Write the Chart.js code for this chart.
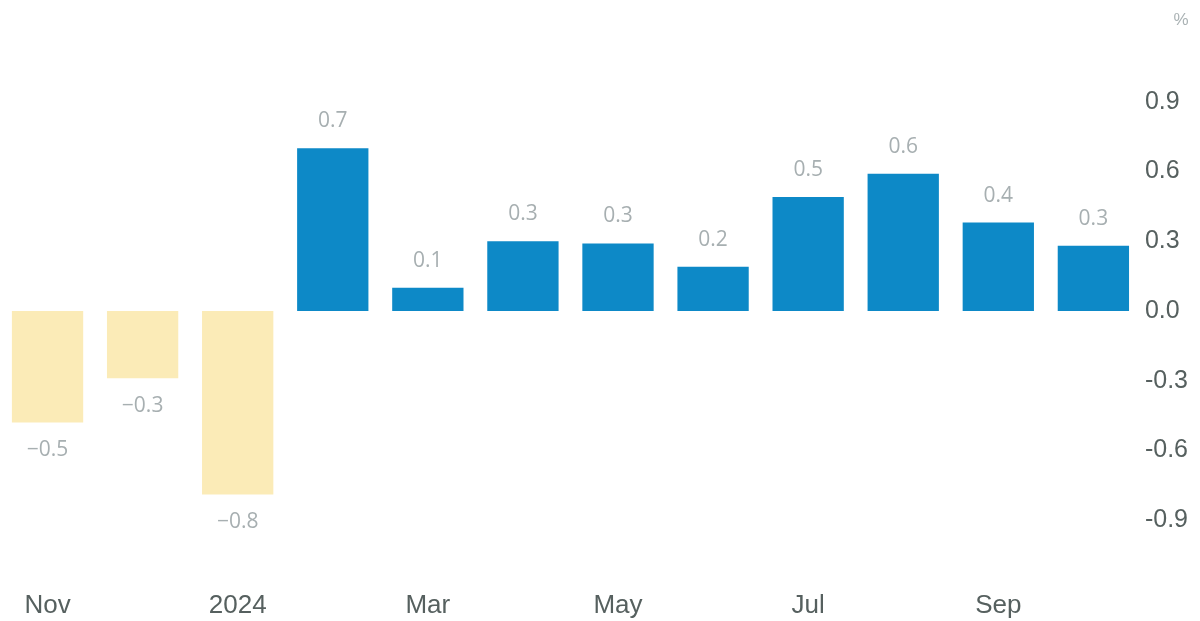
<!DOCTYPE html>
<html>
<head>
<meta charset="utf-8">
<script src="https://cdn.jsdelivr.net/npm/chart.js@4.4.1/dist/chart.umd.min.js"></script>
<style>
  html, body { margin: 0; padding: 0; background: #ffffff; }
  #wrap { width: 1200px; height: 621px; position: relative; }
</style>
</head>
<body>
<div id="wrap"><canvas id="c" width="1200" height="621"></canvas></div>
<script>
// Data
const categories = ['Nov', 'Dec', '2024', 'Feb', 'Mar', 'Apr', 'May', 'Jun', 'Jul', 'Aug', 'Sep', 'Oct'];
const values = [-0.48, -0.29, -0.79, 0.70, 0.10, 0.30, 0.29, 0.19, 0.49, 0.59, 0.38, 0.28];
const valueLabels = ['−0.5', '−0.3', '−0.8', '0.7', '0.1', '0.3', '0.3', '0.2', '0.5', '0.6', '0.4', '0.3'];
const yTickValues = [-0.9, -0.6, -0.3, 0.0, 0.3, 0.6, 0.9];
const unitLabel = '%';

const BLUE = '#0d89c7';
const YELLOW = '#fbebb7';
const LABEL_GREY = '#a7afb1';
const TICK_GREY = '#56605f';

const valueLabelPlugin = {
  id: 'valueLabels',
  afterDatasetsDraw(chart) {
    const ctx = chart.ctx;
    const meta = chart.getDatasetMeta(0);
    ctx.save();
    ctx.font = '21px "Open Sans", "DejaVu Sans", sans-serif';
    ctx.fillStyle = LABEL_GREY;
    ctx.textAlign = 'center';
    ctx.textBaseline = 'middle';
    meta.data.forEach((bar, i) => {
      const v = values[i];
      const y = v >= 0 ? bar.y - 27 : bar.y + 28;
      ctx.fillText(valueLabels[i], bar.x, y);
    });
    ctx.restore();
  }
};

const unitPlugin = {
  id: 'unitLabel',
  afterDraw(chart) {
    const ctx = chart.ctx;
    ctx.save();
    ctx.font = '17px "Liberation Sans", Arial, sans-serif';
    ctx.fillStyle = '#aab2b4';
    ctx.textAlign = 'center';
    ctx.textBaseline = 'middle';
    ctx.fillText(unitLabel, 1181, 20);
    ctx.restore();
  }
};

new Chart(document.getElementById('c'), {
  type: 'bar',
  data: {
    labels: categories,
    datasets: [{
      data: values,
      backgroundColor: ctx => (values[ctx.dataIndex] < 0 ? YELLOW : BLUE),
      borderWidth: 0,
      categoryPercentage: 1.0,
      barPercentage: 0.75
    }]
  },
  options: {
    responsive: false,
    animation: false,
    devicePixelRatio: 1,
    layout: { padding: { top: 32, right: 8, bottom: 0, left: 0 } },
    plugins: {
      legend: { display: false },
      tooltip: { enabled: false },
      title: { display: false }
    },
    scales: {
      x: {
        grid: { display: false, drawTicks: false },
        border: { display: false },
        ticks: {
          autoSkip: false,
          maxRotation: 0,
          padding: 0,
          color: TICK_GREY,
          font: { family: '"Liberation Sans", Arial, sans-serif', size: 26 },
          callback: (val, idx) => (idx % 2 === 0 ? categories[idx] : '')
        }
      },
      y: {
        position: 'right',
        min: -1.2,
        max: 1.2,
        grid: { display: false, drawTicks: false },
        border: { display: false },
        afterBuildTicks: axis => {
          axis.ticks = yTickValues.map(v => ({ value: v }));
        },
        ticks: {
          padding: 4,
          color: TICK_GREY,
          font: { family: '"Liberation Sans", Arial, sans-serif', size: 25 },
          callback: v => Number(v).toFixed(1)
        }
      }
    }
  },
  plugins: [valueLabelPlugin, unitPlugin]
});
</script>
</body>
</html>
